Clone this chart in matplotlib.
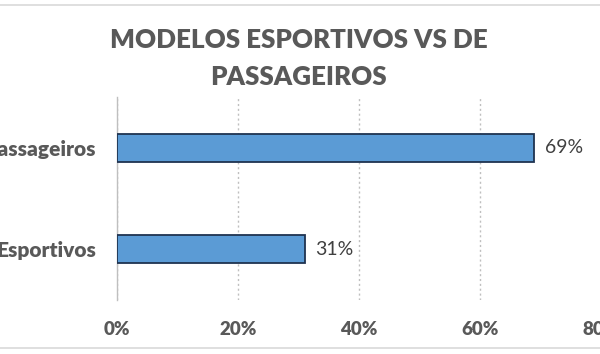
import matplotlib
matplotlib.use("Agg")
import matplotlib.pyplot as plt
from matplotlib.lines import Line2D
from matplotlib.ticker import FuncFormatter

# dados do gráfico
categorias = ["Esportivos", "Passageiros"]
percentuais = [31, 69]
ticks_x = [0, 20, 40, 60, 80]

plt.rcParams['font.family'] = ['Lato', 'DejaVu Sans']

cinza_texto = "#595959"
azul = "#5B9BD5"
borda_barra = "#1F3350"

fig = plt.figure(figsize=(6, 3.54), dpi=100)
ax = fig.add_axes([117 / 600, 54 / 354, 484 / 600, 203 / 354])

ax.barh(categorias, percentuais, height=0.275, color=azul,
        edgecolor=borda_barra, linewidth=1.3, zorder=3)

for i, v in enumerate(percentuais):
    ax.text(v + 1.8, i, f"{v}%", va="center", ha="left",
            fontsize=14, color="#404040")

ax.set_xlim(0, 80)
ax.set_ylim(-0.5, 1.5)
ax.set_xticks(ticks_x)
ax.xaxis.set_major_formatter(FuncFormatter(lambda x, p: f"{x:.0f}%"))
ax.grid(axis="x", linestyle=(0, (1.5, 2)), color="#bfbfbf", linewidth=1, zorder=0)

for s in ["top", "right", "bottom"]:
    ax.spines[s].set_visible(False)
ax.spines["left"].set_color("#bfbfbf")
ax.spines["left"].set_linewidth(1)

ax.tick_params(axis="both", length=0, labelcolor=cinza_texto)
ax.tick_params(axis="x", pad=15, labelsize=13.5)
ax.tick_params(axis="y", pad=15, labelsize=15)
for lab in ax.get_xticklabels() + ax.get_yticklabels():
    lab.set_fontweight("heavy")

fig.text(0.498, 1 - 58.5 / 354, "MODELOS ESPORTIVOS VS DE\nPASSAGEIROS", ha="center",
         va="center", fontsize=18.7, fontweight="heavy", color=cinza_texto,
         linespacing=1.65)

# borda do gráfico (cortada)
fig.add_artist(Line2D([0, 1], [1 - 5 / 354, 1 - 5 / 354], color="#d9d9d9", linewidth=1.2))
fig.add_artist(Line2D([0, 1], [6 / 354, 6 / 354], color="#d9d9d9", linewidth=1.2))

fig.savefig("out.png", dpi=100)
